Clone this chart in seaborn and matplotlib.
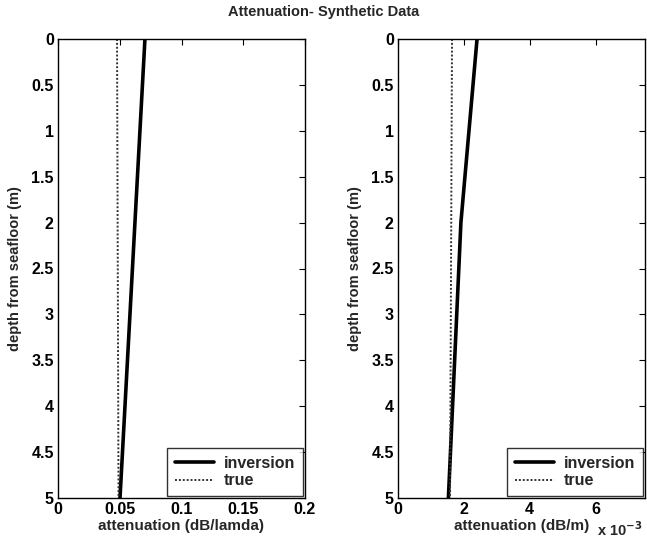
import numpy as np
import pandas as pd
import matplotlib
matplotlib.use("Agg")
import matplotlib.pyplot as plt
import seaborn as sns

# data
depth_inv_l = [0, 2, 5]
atten_inv_l = [0.0704, 0.0623, 0.0502]
depth_true_l = [0, 5]
atten_true_l = [0.0478, 0.0490]

depth_inv_r = [0, 2, 5]
atten_inv_r = [2.40e-3, 1.91e-3, 1.53e-3]
depth_true_r = [0, 5]
atten_true_r = [1.64e-3, 1.58e-3]

yticks = [0, 0.5, 1, 1.5, 2, 2.5, 3, 3.5, 4, 4.5, 5]
yticklabels = ["0", "0.5", "1", "1.5", "2", "2.5", "3", "3.5", "4", "4.5", "5"]
xticks_l = [0, 0.05, 0.1, 0.15, 0.2]
xticklabels_l = ["0", "0.05", "0.1", "0.15", "0.2"]
xticks_r = [0, 0.002, 0.004, 0.006]
xticklabels_r = ["0", "2", "4", "6"]

sns.set_style("white")
plt.rcParams['font.family'] = ['Liberation Sans', 'DejaVu Sans']
plt.rcParams['font.weight'] = 'bold'

fig = plt.figure(figsize=(6.47, 5.39), dpi=100)
W, H = 647, 539
ax1 = fig.add_axes([58 / W, (H - 498) / H, 247 / W, 459 / H])
ax2 = fig.add_axes([398 / W, (H - 498) / H, 247 / W, 459 / H])

panels = [
    (ax1, depth_inv_l, atten_inv_l, depth_true_l, atten_true_l, (0, 0.2), xticks_l, xticklabels_l,
     "attenuation (dB/lamda)"),
    (ax2, depth_inv_r, atten_inv_r, depth_true_r, atten_true_r, (0, 0.0075), xticks_r, xticklabels_r,
     "attenuation (dB/m)"),
]

fs = 11.5
for ax, d_inv, a_inv, d_true, a_true, xlim, xt, xtl, xlab in panels:
    df_inv = pd.DataFrame({"atten": a_inv, "depth": d_inv})
    df_true = pd.DataFrame({"atten": a_true, "depth": d_true})
    sns.lineplot(data=df_inv, x="atten", y="depth", orient="y", sort=False,
                 color="black", linewidth=2.6, label="inversion", ax=ax)
    sns.lineplot(data=df_true, x="atten", y="depth", orient="y", sort=False,
                 color="#333333", linewidth=1.4, linestyle=(0, (1, 1)), label="true", ax=ax)
    ax.set_xlim(*xlim)
    ax.set_ylim(5, 0)
    ax.set_xticks(xt)
    ax.set_xticklabels(xtl, fontsize=fs, fontweight="bold")
    ax.set_yticks(yticks)
    ax.set_yticklabels(yticklabels, fontsize=fs, fontweight="bold")
    ax.set_xlabel(xlab, fontsize=11, fontweight="bold", labelpad=1)
    ax.set_ylabel("depth from seafloor (m)", fontsize=10.5, fontweight="bold", labelpad=7)
    ax.tick_params(direction="in", length=4, width=0.8, top=True, right=True, pad=3,
                   colors="black")
    for s in ax.spines.values():
        s.set_visible(True)
        s.set_color("black")
        s.set_linewidth(1.0)
    leg = ax.legend(loc="lower right", frameon=True, fancybox=False,
                    handlelength=2.5, handletextpad=0.6, borderaxespad=0.1,
                    labelspacing=0.15, borderpad=0.5,
                    prop={"weight": "bold", "size": 11.5})
    leg.get_frame().set_edgecolor("black")
    leg.get_frame().set_linewidth(1.0)

fig.text(620 / W, 1 - 530 / H, r"x 10$^{-3}$", fontsize=10.5, fontweight="bold",
         ha="center", va="center")
fig.suptitle("Attenuation- Synthetic Data", fontsize=10.5, fontweight="bold", y=1 - 12 / H,
             va="center")

fig.savefig("out.png", dpi=100)
